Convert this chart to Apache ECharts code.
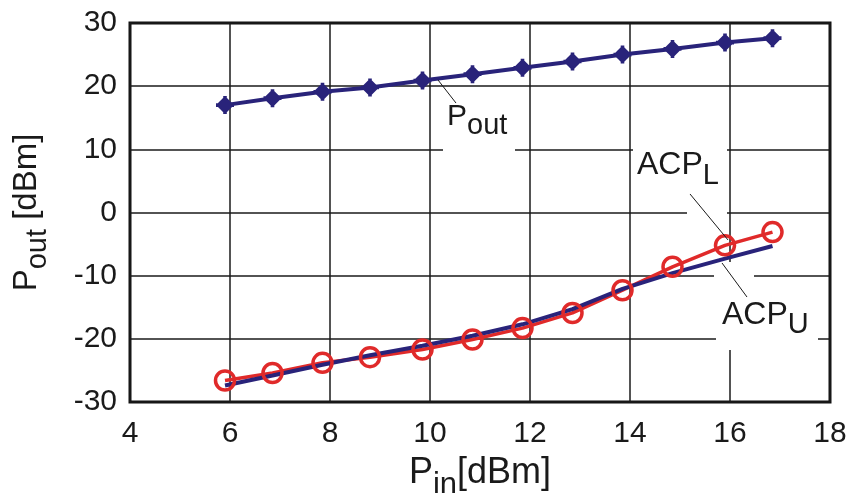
<!DOCTYPE html>
<html>
<head>
<meta charset="utf-8">
<script src="https://cdn.jsdelivr.net/npm/echarts@6/dist/echarts.min.js"></script>
<style>
html,body{margin:0;padding:0;background:#fff}
#c{width:853px;height:493px}
</style>
</head>
<body>
<div id="c"></div>
<script>
// input power (x) for every measured point
var pin  = [5.9, 6.85, 7.85, 8.8, 9.85, 10.85, 11.85, 12.85, 13.85, 14.85, 15.9, 16.85];
// output power
var pout = [17.0, 18.1, 19.1, 19.8, 20.9, 21.9, 22.9, 23.9, 25.0, 25.9, 26.9, 27.6];
// lower / upper adjacent channel power
var acpL = [-26.6, -25.4, -23.8, -22.9, -21.7, -20.1, -18.3, -15.9, -12.3, -8.6, -5.2, -3.1];
var acpU = [-27.4, -25.8, -24.1, -22.6, -21.1, -19.5, -17.7, -15.3, -12.1, -9.6, -7.3, -5.3];

// annotation labels: main text, subscript, text anchor (left, baseline) and leader line, in data units
var notes = [
  {main:'P',   sub:'out', at:[10.34, 13.5], size:30, leader:[[10.16, 20.98],[10.52, 17.33]]},
  {main:'ACP', sub:'L',   at:[14.14, 5.6], size:32, leader:[[15.2, 2.93],[15.96, -4.35]]},
  {main:'ACP', sub:'U',   at:[15.84, -18.1], size:32, leader:[[15.84, -7.99],[16.34, -13.38]]}
];
// white patches behind labels (data units, [x0,y0,x1,y1])
var patches = [
  [10.26, 17.8, 11.7, 9.6],
  [14.06, 10.2, 15.94, 2.45],
  [15.14, 2.45, 15.94, -0.87],
  [15.72, -12.27, 17.76, -21.77],
  [15.68, -7.84, 16.48, -12.59]
];

function pairs(xs, ys){
  return xs.map(function(x, i){ return [x, ys[i]]; });
}

var navy = '#29237a', red = '#e02a2a', ink = '#1a1a1a';
var font = '"Liberation Sans", Arial, Helvetica, sans-serif';
var star = 'path://M0,-10 L5,-5 L10,0 L5,5 L0,10 L-5,5 L-10,0 L-5,-5 Z M-2,-10 L2,-10 L2,10 L-2,10 Z M-10,-2 L10,-2 L10,2 L-10,2 Z';

var myChart = echarts.init(document.getElementById('c'));
var option = {
  animation: false,
  grid: {
    left: 130, right: 23, top: 23, bottom: 91,
    outerBoundsMode: 'none', containLabel: false,
    show: true, borderColor: '#111', borderWidth: 3
  },
  xAxis: {
    type: 'value', min: 4, max: 18, interval: 2,
    name: '{a|P}{b|in}{a|[dBm]}',
    nameLocation: 'middle', nameGap: 53, nameMoveOverlap: false,
    nameTextStyle: {
      color: ink, fontFamily: font,
      rich: {
        a: {fontSize: 36, fontFamily: font, color: ink, lineHeight: 36, verticalAlign: 'top'},
        b: {fontSize: 31, fontFamily: font, color: ink, lineHeight: 60, verticalAlign: 'middle'}
      }
    },
    axisLine: {show: false},
    axisTick: {show: false},
    axisLabel: {color: ink, fontSize: 30, fontFamily: font, margin: 17},
    splitLine: {show: true, lineStyle: {color: ink, width: 1.5}}
  },
  yAxis: {
    type: 'value', min: -30, max: 30, interval: 10,
    name: '{a|P}{b|out}{a| [dBm]}',
    nameLocation: 'middle', nameGap: 65, nameMoveOverlap: false,
    nameTextStyle: {
      color: ink, fontFamily: font,
      rich: {
        a: {fontSize: 33, fontFamily: font, color: ink, lineHeight: 33, verticalAlign: 'top'},
        b: {fontSize: 29, fontFamily: font, color: ink, lineHeight: 55, verticalAlign: 'middle'}
      }
    },
    axisLine: {show: false},
    axisTick: {show: false},
    axisLabel: {color: ink, fontSize: 30, fontFamily: font, margin: 13},
    splitLine: {show: true, lineStyle: {color: ink, width: 1.5}}
  },
  series: [
    {
      name: 'Pout', type: 'line', data: pairs(pin, pout),
      symbol: star, symbolSize: 18,
      lineStyle: {color: navy, width: 4},
      itemStyle: {color: navy}
    },
    {
      name: 'ACPL', type: 'line', data: pairs(pin, acpL),
      symbol: 'circle', symbolSize: 19,
      lineStyle: {color: red, width: 3.5},
      itemStyle: {color: 'rgba(0,0,0,0)', borderColor: red, borderWidth: 3.5}
    },
    {
      name: 'ACPU', type: 'line', data: pairs(pin, acpU),
      showSymbol: false, symbol: 'none',
      lineStyle: {color: navy, width: 4}
    }
  ]
};
option && myChart.setOption(option);

// labels and leader lines, placed from data coordinates
function px(p){ return myChart.convertToPixel({gridIndex: 0}, p); }
var g = [];
patches.forEach(function(r){
  var a = px([r[0], r[1]]), b = px([r[2], r[3]]);
  g.push({type: 'rect', z: 1, silent: true,
    shape: {x: a[0], y: a[1], width: b[0] - a[0], height: b[1] - a[1]},
    style: {fill: '#fff'}});
});
notes.forEach(function(n){
  var p0 = px(n.leader[0]), p1 = px(n.leader[1]);
  g.push({type: 'line', z: 10, silent: true,
    shape: {x1: p0[0], y1: p0[1], x2: p1[0], y2: p1[1]},
    style: {stroke: ink, lineWidth: 1}});
  var t = px(n.at);
  g.push({type: 'text', z: 10, silent: true,
    x: t[0], y: t[1] - n.size * 0.86,
    style: {
      text: '{a|' + n.main + '}{b|' + n.sub + '}',
      align: 'left', verticalAlign: 'top',
      rich: {
        a: {fontSize: n.size, fontFamily: font, fill: ink, lineHeight: n.size, verticalAlign: 'top'},
        b: {fontSize: 29, fontFamily: font, fill: ink, lineHeight: n.size + 20, verticalAlign: 'middle'}
      }
    }});
});
myChart.setOption({graphic: g});

window.addEventListener('resize', function(){ myChart.resize(); });
</script>
</body>
</html>
